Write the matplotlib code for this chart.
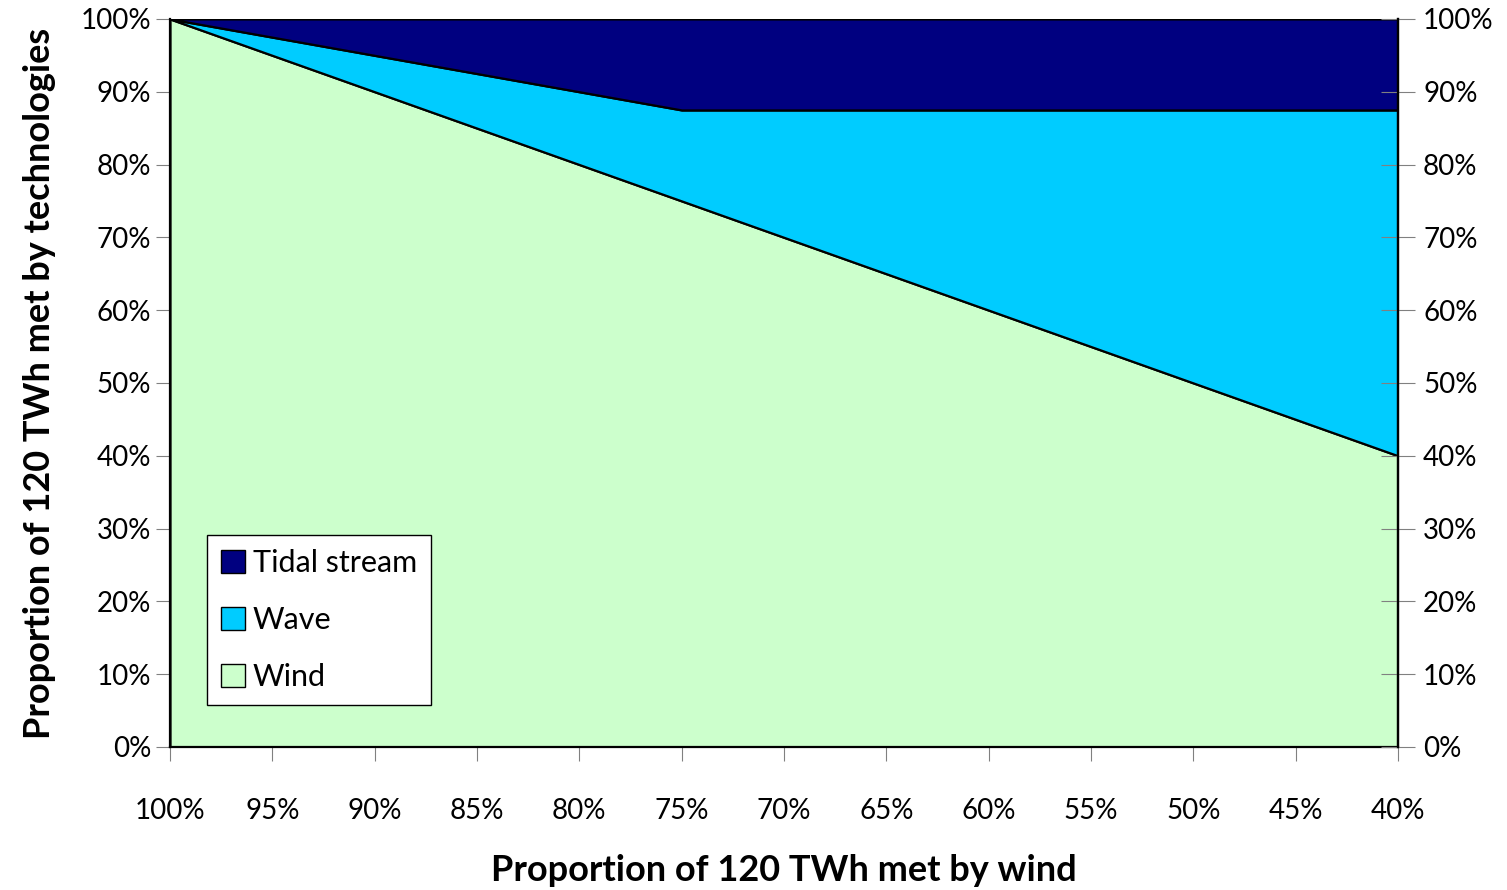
import numpy as np
import matplotlib
matplotlib.use("Agg")
import matplotlib.pyplot as plt
from matplotlib.patches import Patch
from matplotlib.ticker import FuncFormatter

plt.rcParams['font.family'] = ['Lato', 'DejaVu Sans']

# share of 120 TWh met by wind (x categories)
wind_share = [100, 95, 90, 85, 80, 75, 70, 65, 60, 55, 50, 45, 40]
wind = [100, 95, 90, 85, 80, 75, 70, 65, 60, 55, 50, 45, 40]
tidal = [0, 2.5, 5, 7.5, 10, 12.5, 12.5, 12.5, 12.5, 12.5, 12.5, 12.5, 12.5]
wave = [100 - w - t for w, t in zip(wind, tidal)]

x_labels = ["%d%%" % v for v in wind_share]
y_ticks = list(range(0, 101, 10))

c_wind = "#CCFFCC"
c_wave = "#00CCFF"
c_tidal = "#000080"

fig = plt.figure(figsize=(15.07, 8.9), dpi=100)
ax = fig.add_axes([0.1128, 0.1607, 0.8149, 0.818])
x = np.arange(len(wind_share))

ax.stackplot(x, wind, wave, tidal, colors=[c_wind, c_wave, c_tidal],
             edgecolor="black", linewidth=1.6)

ax.set_xlim(0, len(x) - 1)
ax.set_ylim(0, 100)
ax.set_xticks(x)
ax.set_xticklabels(x_labels, fontsize=20)
ax.set_yticks(y_ticks)
ax.yaxis.set_major_formatter(FuncFormatter(lambda v, p: "%d%%" % v))
ax.tick_params(axis="y", labelsize=20, length=10, color="#808080", direction="out")
ax.tick_params(axis="x", length=10, color="#808080", direction="out", pad=27)

ax.spines["top"].set_visible(False)
for s in ["left", "bottom", "right"]:
    ax.spines[s].set_linewidth(1.6)

ax2 = ax.twinx()
ax2.set_ylim(0, 100)
ax2.set_yticks(y_ticks)
ax2.yaxis.set_major_formatter(FuncFormatter(lambda v, p: "%d%%" % v))
ax2.tick_params(axis="y", labelsize=20, length=24, color="#808080", direction="inout", pad=6)
for s in ["top", "left", "bottom"]:
    ax2.spines[s].set_visible(False)
ax2.spines["right"].set_linewidth(1.6)

ax.set_xlabel("Proportion of 120 TWh met by wind", fontsize=26, fontweight="bold", labelpad=21)
ax.set_ylabel("Proportion of 120 TWh met by technologies", fontsize=26, fontweight="bold", labelpad=18)

handles = [Patch(facecolor=c_tidal, edgecolor="black", label="Tidal stream"),
           Patch(facecolor=c_wave, edgecolor="black", label="Wave"),
           Patch(facecolor=c_wind, edgecolor="black", label="Wind")]
leg = ax.legend(handles=handles, loc="lower left", bbox_to_anchor=(0.03, 0.058),
                fontsize=22, frameon=True, fancybox=False, edgecolor="black",
                facecolor="white", framealpha=1.0,
                handlelength=0.8, handleheight=0.8, handletextpad=0.25,
                labelspacing=0.95, borderpad=0.45, borderaxespad=0)
leg.get_frame().set_linewidth(1.0)

fig.savefig("out.png", dpi=100)
